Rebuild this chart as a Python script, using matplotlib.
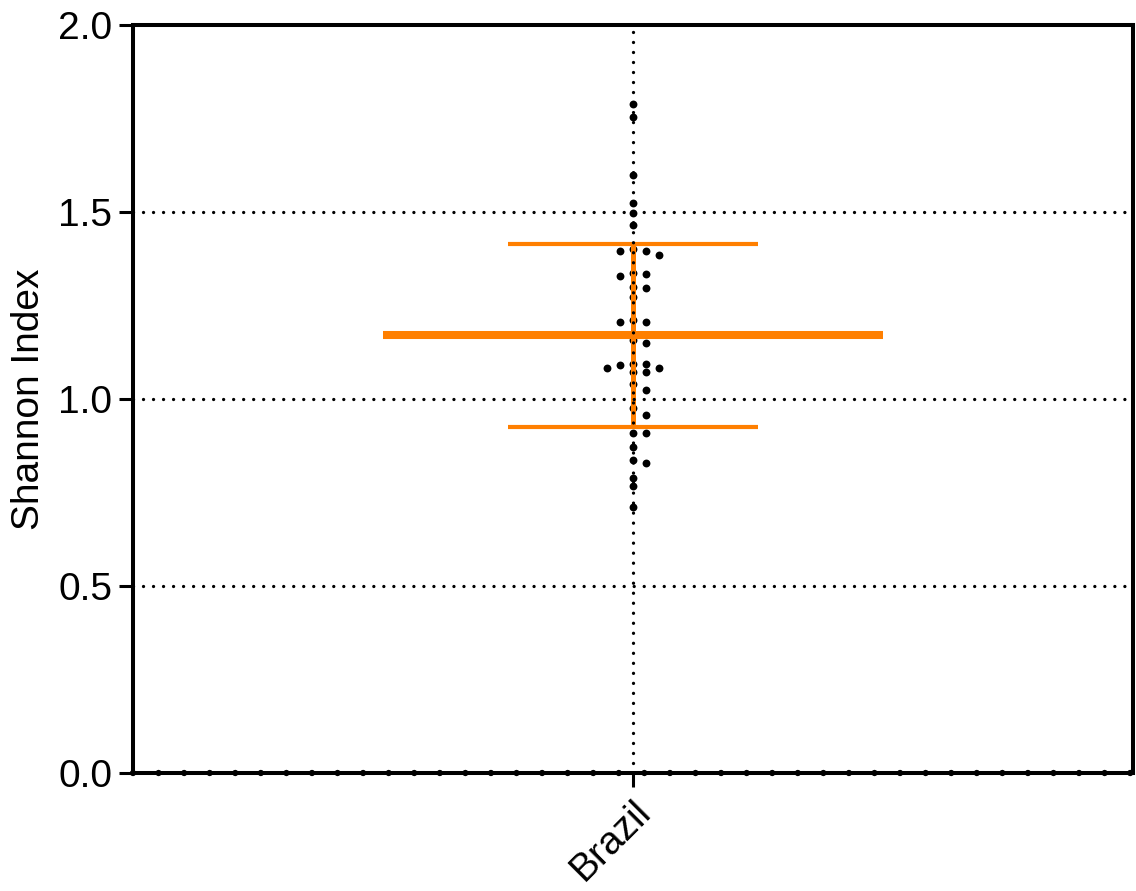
import numpy as np
import matplotlib
matplotlib.use("Agg")
import matplotlib.pyplot as plt

plt.rcParams['font.family'] = ['Liberation Sans', 'DejaVu Sans']
plt.rcParams['lines.scale_dashes'] = False

# ---- data ----
categories = ["Brazil"]
shannon_values = [
    1.788, 1.755, 1.599, 1.524, 1.497, 1.465,
    1.400, 1.396, 1.396, 1.385,
    1.336, 1.335, 1.329, 1.300, 1.298, 1.272,
    1.210, 1.207, 1.207, 1.158, 1.149,
    1.090, 1.084, 1.093, 1.093, 1.084, 1.071, 1.071,
    1.039, 1.024, 0.975, 0.957,
    0.910, 0.910, 0.872, 0.838, 0.829, 0.790, 0.767, 0.712,
]
mean_value = 1.170
sd_value = 0.244
y_ticks = [0.0, 0.5, 1.0, 1.5, 2.0]
y_label = "Shannon Index"

ORANGE = '#FF7F00'

fig = plt.figure(figsize=(11.36, 8.91), dpi=100)
ax = fig.add_axes([133/1136, (891-773)/891, 1000/1136, 748/891])
ax.set_xlim(-1, 1)
ax.set_ylim(0, 2.0)

# ---- simple beeswarm layout in pixel space ----
px_per_x = 1000 / 2.0
px_per_y = 748 / 2.0
step_px = 13.0
min_dy_px = 7.0
vals = np.array(shannon_values)
order = np.argsort(-vals, kind='stable')
placed = []  # (offset_px, y_px)
offsets = np.zeros(len(vals))
for i in order:
    ypx = vals[i] * px_per_y
    cands = [0]
    for k in range(1, 6):
        cands += [k, -k]
    for c in cands:
        ox = c * step_px
        ok = True
        for (px, py) in placed:
            if abs(px - ox) < step_px * 0.9 and abs(py - ypx) < min_dy_px:
                ok = False
                break
        if ok:
            placed.append((ox, ypx))
            offsets[i] = ox / px_per_x
            break

x0 = 0.0
ax.scatter(x0 + offsets, vals, s=32, color='black', zorder=2, linewidths=0)

# ---- mean +/- SD ----
ax.hlines(mean_value, x0 - 0.5, x0 + 0.5, color=ORANGE, lw=5.8, zorder=3)
ax.vlines(x0, mean_value - sd_value, mean_value + sd_value, color=ORANGE, lw=3.6, zorder=3)
ax.hlines([mean_value - sd_value, mean_value + sd_value], x0 - 0.25, x0 + 0.25,
          color=ORANGE, lw=3.0, zorder=3)

# ---- grid lines (dotted) ----
for yv in y_ticks[1:-1]:
    ax.axhline(yv, color='black', lw=2.4, dashes=(0.01, 7.2),
               dash_capstyle='round', zorder=4)
ax.axvline(x0, color='black', lw=2.4, dashes=(0.01, 7.2),
           dash_capstyle='round', zorder=4)
ax.axhline(0, color='black', lw=4.6, dashes=(0.01, 18.4),
           dash_capstyle='round', zorder=5, clip_on=False)

# ---- axes styling ----
for s in ax.spines.values():
    s.set_linewidth(2.9)
    s.set_color('black')
ax.set_yticks(y_ticks)
ax.set_yticklabels([f"{v:.1f}" for v in y_ticks])
ax.set_xticks([x0])
ax.set_xticklabels(categories, rotation=45, ha='right', va='top',
                   rotation_mode='anchor')
ax.tick_params(axis='both', direction='out', length=10, width=2.2,
               labelsize=28, pad=5, color='black')
ax.set_ylabel(y_label, fontsize=28, labelpad=8)

fig.savefig("out.png", dpi=100)
